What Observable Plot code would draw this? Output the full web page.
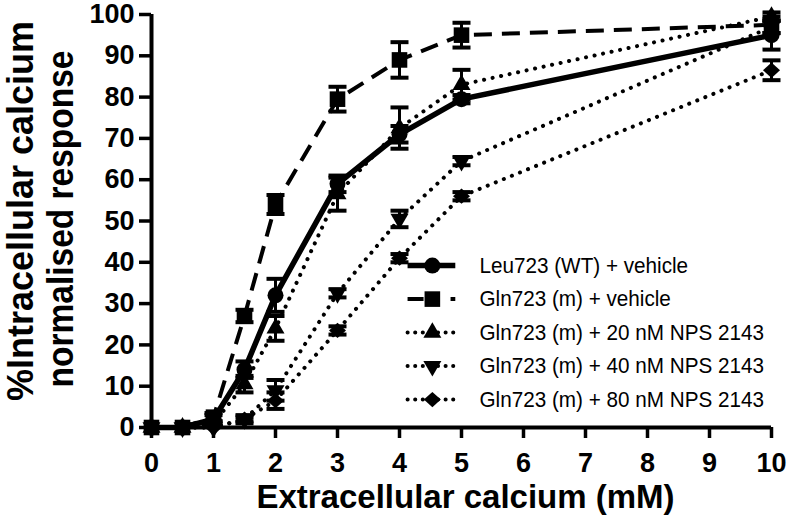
<!DOCTYPE html>
<html><head><meta charset="utf-8">
<script src="https://cdn.jsdelivr.net/npm/d3@7"></script>
<script src="https://cdn.jsdelivr.net/npm/@observablehq/plot@0.6"></script>
<style>body{margin:0;background:#fff}</style>
</head><body><div id="chart"></div>
<script>
// ---- data ----
const calcium = [0, 0.5, 1, 1.5, 2, 3, 4, 5, 10];
const seriesNames = [
  "Leu723 (WT) + vehicle",
  "Gln723 (m) + vehicle",
  "Gln723 (m) + 20 nM NPS 2143",
  "Gln723 (m) + 40 nM NPS 2143",
  "Gln723 (m) + 80 nM NPS 2143"
];
const wtMean    = [0, 0, 2, 14, 32, 59, 71, 79.5, 95];
const wtErr     = [0, 0, 1, 2, 4, 2, 2, 1, 3.5];
const glnMean   = [0, 0, 2.5, 27, 54, 79.5, 89, 95, 97.5];
const glnErr    = [0, 0, 1, 1.5, 2.3, 3, 4.3, 3, 2];
const nps20Mean = [0, 0, 1, 10.5, 24, 56.5, 72.5, 83, 99.5];
const nps20Err  = [0, 0, 0.5, 2, 3, 4, 5, 3.6, 1];
const nps40Mean = [0, 0, 0, 2, 9, 32.5, 50.5, 64.5, 97];
const nps40Err  = [0, 0, 0, 1, 2.5, 1, 2, 1, 1.5];
const nps80Mean = [0, 0, 0, 2, 6.5, 23.5, 41, 56, 86.5];
const nps80Err  = [0, 0, 0, 0.5, 2, 1, 1, 1, 2.4];
const xTicks = [0, 1, 2, 3, 4, 5, 6, 7, 8, 9, 10];
const yTicks = [0, 10, 20, 30, 40, 50, 60, 70, 80, 90, 100];
const xLabel = "Extracellular calcium (mM)";
const yLabel1 = "%Intracellular calcium";
const yLabel2 = "normalised response";

const means = [wtMean, glnMean, nps20Mean, nps40Mean, nps80Mean];
const errs = [wtErr, glnErr, nps20Err, nps40Err, nps80Err];

// ---- symbols ----
const R = size => Math.sqrt(size / Math.PI);
const sqSym = {draw(c, s){ const r = R(s); c.rect(-r, -r, 2*r, 2*r); }};
const upSym = {draw(c, s){ const r = R(s), h = Math.sqrt(3)*r; c.moveTo(0, -h*2/3); c.lineTo(r, h/3); c.lineTo(-r, h/3); c.closePath(); }};
const downSym = {draw(c, s){ const r = R(s), h = Math.sqrt(3)*r; c.moveTo(0, h*2/3); c.lineTo(r, -h/3); c.lineTo(-r, -h/3); c.closePath(); }};
const diaSym = {draw(c, s){ const r = R(s); c.moveTo(0, -r*0.9); c.lineTo(r, 0); c.lineTo(0, r*0.9); c.lineTo(-r, 0); c.closePath(); }};
const capSym = {draw(c, s){ const r = R(s); c.moveTo(-r, 0); c.lineTo(r, 0); }};

const styles = [
  {w: 5.5, dash: null, cap: "butt", sym: "circle", r: 8},
  {w: 4, dash: "18,10", cap: "butt", sym: sqSym, r: 7.8},
  {w: 4, dash: "0.1,8.6", cap: "round", sym: upSym, r: 9},
  {w: 4, dash: "0.1,8.6", cap: "round", sym: downSym, r: 9},
  {w: 4, dash: "0.1,8.6", cap: "round", sym: diaSym, r: 8.5}
];
const legendDash = [null, "16,27,10", "0.1,7.5", "0.1,7.5", "0.1,7.5"];

const table = seriesNames.map((name, s) => calcium.map((x, i) => ({
  series: name, x, y: means[s][i], lo: means[s][i] - errs[s][i], hi: means[s][i] + errs[s][i], err: errs[s][i]
})));

// legend layout (data units)
const legX1 = 4.13, legX2 = 4.9, legXm = 4.53, legXt = 5.29, legY0 = 39.2, legStep = 8.11;
const legend = seriesNames.map((name, s) => ({name, s, y: legY0 - s * legStep}));

const marks = [];
table.forEach((rows, s) => {
  const eb = rows.filter(d => d.err > 0);
  marks.push(Plot.ruleX(eb, {x: "x", y1: "lo", y2: "hi", stroke: "black", strokeWidth: 3}));
  marks.push(Plot.dot(eb, {x: "x", y: "hi", symbol: capSym, r: 9, stroke: "black", fill: "none", strokeWidth: 4}));
  marks.push(Plot.dot(eb, {x: "x", y: "lo", symbol: capSym, r: 9, stroke: "black", fill: "none", strokeWidth: 4}));
});
table.forEach((rows, s) => {
  const st = styles[s];
  marks.push(Plot.line(rows, {x: "x", y: "y", stroke: "black", strokeWidth: st.w, strokeDasharray: st.dash, strokeLinecap: st.cap}));
});
table.forEach((rows, s) => {
  const st = styles[s];
  marks.push(Plot.dot(rows, {x: "x", y: "y", symbol: st.sym, r: st.r, fill: "black", stroke: "none"}));
});
// legend
legend.forEach(d => {
  const st = styles[d.s];
  marks.push(Plot.link([d], {x1: () => legX1, x2: () => legX2, y1: "y", y2: "y", stroke: "black", strokeWidth: st.w, strokeDasharray: legendDash[d.s], strokeLinecap: st.cap}));
  marks.push(Plot.dot([d], {x: () => legXm, y: "y", symbol: st.sym, r: st.r, fill: "black", stroke: "none"}));
});
marks.push(Plot.text(legend, {x: () => legXt, y: "y", text: "name", textAnchor: "start", fontSize: 22, fontWeight: "normal", fill: "black"}));

// axes
marks.push(Plot.ruleX([0], {stroke: "black", strokeWidth: 4}));
marks.push(Plot.ruleY([0], {stroke: "black", strokeWidth: 4}));
marks.push(Plot.axisX({ticks: xTicks, tickSize: 11, tickPadding: 14, strokeWidth: 3.5, fontSize: 27, label: null}));
marks.push(Plot.axisY({ticks: yTicks, tickSize: 12, tickPadding: 5, strokeWidth: 3.5, fontSize: 27, label: null}));
marks.push(Plot.text([xLabel], {frameAnchor: "bottom", dy: 80, dx: 4, fontSize: 33, fill: "black"}));
marks.push(Plot.text([yLabel1], {frameAnchor: "left", textAnchor: "middle", rotate: -90, dx: -130.5, dy: -10, fontSize: 36, fill: "black"}));
marks.push(Plot.text([yLabel2], {frameAnchor: "left", textAnchor: "middle", rotate: -90, dx: -90.5, dy: -2, fontSize: 36, fill: "black"}));

const chart = Plot.plot({
  width: 788, height: 530,
  marginLeft: 151, marginRight: 17, marginTop: 14, marginBottom: 103,
  x: {domain: [0, 10]},
  y: {domain: [0, 100]},
  style: {fontFamily: "'Liberation Sans', Arial, sans-serif", fontWeight: "bold", color: "black", background: "white"},
  marks
});
document.getElementById("chart").appendChild(chart);

// slightly condense narrow-looking texts
const condense = new Map([[yLabel2, 0.93], ...seriesNames.map(n => [n, 0.94])]);
chart.querySelectorAll("text").forEach(t => {
  const f = condense.get(t.textContent);
  if (f) {
    const L = t.getComputedTextLength();
    t.setAttribute("textLength", L * f);
    t.setAttribute("lengthAdjust", "spacingAndGlyphs");
  }
});
</script>
</body></html>
